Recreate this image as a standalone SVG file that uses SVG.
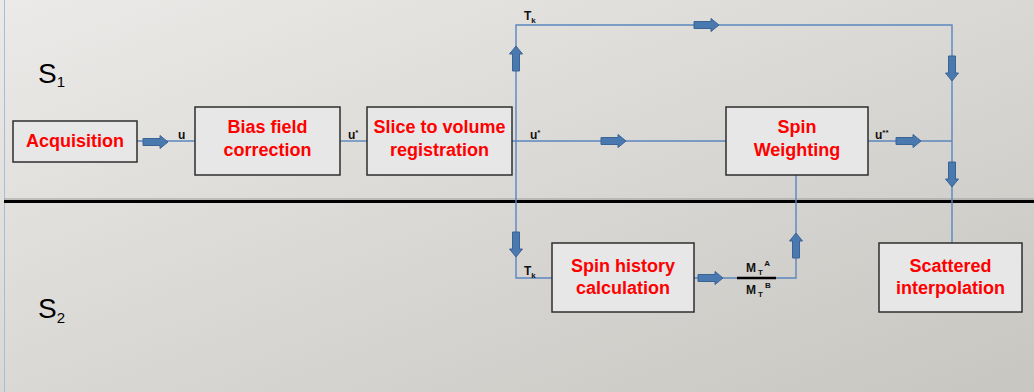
<svg xmlns="http://www.w3.org/2000/svg" width="1034" height="392" viewBox="0 0 1034 392">
<defs>
<linearGradient id="bg" x1="0" y1="0" x2="1" y2="1">
<stop offset="0" stop-color="#ebeae8"/>
<stop offset="1" stop-color="#c8c6c1"/>
</linearGradient>
<path id="arr" d="M0,-3.5 H17 V-6.5 L25,0 L17,6.5 V3.5 H0 Z"/>
</defs>
<style>
.box{fill:#e7e7e7;stroke:#2e2e2e;stroke-width:1.5}
.t{font-family:"Liberation Sans",Arial,sans-serif;font-weight:bold;font-size:18px;fill:#ff0000;text-anchor:middle}
.lbl{font-family:"Liberation Sans",Arial,sans-serif;font-weight:bold;font-size:12px;fill:#111}
.sm{font-size:8px}
.S{font-family:"Liberation Sans",Arial,sans-serif;font-size:28px;fill:#000}
.ln{fill:none;stroke:#5a86bf;stroke-width:1.4}
.ar{fill:#4a79b0;stroke:#3a6396;stroke-width:1}
</style>
<rect x="0" y="0" width="1034" height="392" fill="url(#bg)"/>
<line x1="4.5" y1="0" x2="4.5" y2="392" stroke="#a9bcd6" stroke-width="1"/>
<line x1="4" y1="199" x2="1034" y2="199" stroke="#9a9a9a" stroke-width="1"/>
<line x1="4" y1="201.5" x2="1034" y2="201.5" stroke="#000" stroke-width="3"/>

<g id="lane-labels">
<text class="S" x="38" y="83">S<tspan font-size="15" dy="4">1</tspan></text>
<text class="S" x="38" y="318">S<tspan font-size="15" dy="5">2</tspan></text>
</g>

<g id="connectors">
<path class="ln" d="M137,141 H195"/>
<path class="ln" d="M340,141 H367" stroke="#8ea6c4"/>
<path class="ln" d="M512,141 H726"/>
<path class="ln" d="M516,141 V25 H952 V243"/>
<path class="ln" d="M868,141 H952"/>
<path class="ln" d="M516,141 V278 H552"/>
<path class="ln" d="M694,278 H796 V175"/>
<line x1="737" y1="278" x2="776" y2="278" stroke="#000" stroke-width="2.5"/>
<use href="#arr" class="ar" transform="translate(143,142)"/>
<use href="#arr" class="ar" transform="translate(601,141)"/>
<use href="#arr" class="ar" transform="translate(694,25)"/>
<use href="#arr" class="ar" transform="translate(896,141)"/>
<use href="#arr" class="ar" transform="translate(698,278)"/>
<use href="#arr" class="ar" transform="translate(516,71) rotate(-90)"/>
<use href="#arr" class="ar" transform="translate(952,56) rotate(90)"/>
<use href="#arr" class="ar" transform="translate(952,162) rotate(90)"/>
<use href="#arr" class="ar" transform="translate(516,232) rotate(90)"/>
<use href="#arr" class="ar" transform="translate(796,258) rotate(-90)"/>
<text class="lbl" x="178" y="139">u</text>
<text class="lbl" x="348" y="139">u<tspan class="sm" dy="-4">*</tspan></text>
<text class="lbl" x="530" y="139">u<tspan class="sm" dy="-4">*</tspan></text>
<text class="lbl" x="875" y="139">u<tspan class="sm" dy="-4">**</tspan></text>
<text class="lbl" x="524" y="20">T<tspan class="sm" dy="3">k</tspan></text>
<text class="lbl" x="524" y="275">T<tspan class="sm" dy="3">k</tspan></text>
<text class="lbl" x="746" y="272">M<tspan class="sm" dx="2" dy="3">T</tspan><tspan class="sm" dx="2" dy="-9">A</tspan></text>
<text class="lbl" x="746" y="294">M<tspan class="sm" dx="2" dy="3">T</tspan><tspan class="sm" dx="2" dy="-9">B</tspan></text>
</g>

<g id="acquisition">
<rect class="box" x="13" y="121" width="124" height="41"/>
<text class="t" x="75" y="147">Acquisition</text>
</g>
<g id="bias">
<rect class="box" x="195" y="107" width="145" height="68"/>
<text class="t" x="267.5" y="133">Bias field</text>
<text class="t" x="267.5" y="156">correction</text>
</g>
<g id="slice">
<rect class="box" x="367" y="107" width="145" height="68"/>
<text class="t" x="439.5" y="133">Slice to volume</text>
<text class="t" x="439.5" y="156">registration</text>
</g>
<g id="spin-weighting">
<rect class="box" x="726" y="107" width="142" height="68"/>
<text class="t" x="797" y="133">Spin</text>
<text class="t" x="797" y="156">Weighting</text>
</g>
<g id="spin-history">
<rect class="box" x="552" y="243" width="142" height="69"/>
<text class="t" x="623" y="272">Spin history</text>
<text class="t" x="623" y="294">calculation</text>
</g>
<g id="scattered">
<rect class="box" x="879" y="243" width="143" height="69"/>
<text class="t" x="950.5" y="272">Scattered</text>
<text class="t" x="950.5" y="294">interpolation</text>
</g>
</svg>
